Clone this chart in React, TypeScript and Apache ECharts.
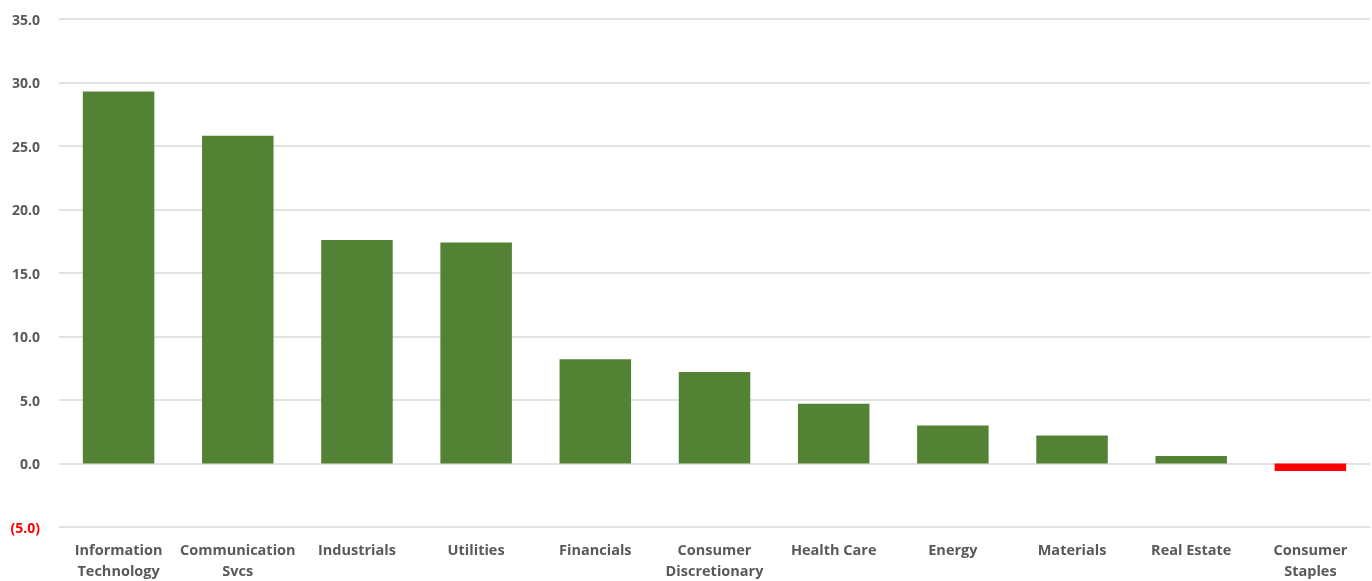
import React, { useEffect, useRef } from "react";
import * as echarts from "echarts";

const categories = [
  "Information\nTechnology",
  "Communication\nSvcs",
  "Industrials",
  "Utilities",
  "Financials",
  "Consumer\nDiscretionary",
  "Health Care",
  "Energy",
  "Materials",
  "Real Estate",
  "Consumer\nStaples",
];
const values = [29.3, 25.8, 17.6, 17.4, 8.2, 7.2, 4.7, 3.0, 2.2, 0.6, -0.6];

const GREEN = "#548235";
const RED = "#ff0000";

export default function App() {
  const ref = useRef<HTMLDivElement>(null);
  useEffect(() => {
    if (!ref.current) return;
    const chart = echarts.init(ref.current, undefined, { renderer: "svg" });
    chart.setOption({
      animation: false,
      grid: { left: 59, right: 2, top: 19, bottom: 50, containLabel: false },
      xAxis: {
        type: "category",
        data: categories,
        axisLine: { show: false, onZero: false },
        axisTick: { show: false },
        axisLabel: {
          interval: 0,
          margin: 12,
          fontSize: 14.5,
          lineHeight: 21,
          fontWeight: "bold",
          color: "#595959",
          fontFamily: "Open Sans",
        },
      },
      yAxis: {
        type: "value",
        min: -5,
        max: 35,
        interval: 5,
        axisLine: { show: false },
        axisTick: { show: false },
        splitLine: { lineStyle: { color: "#d9d9d9", width: 1.5 } },
        axisLabel: {
          margin: 19,
          fontSize: 14,
          fontWeight: "bold",
          color: "#595959",
          fontFamily: "Open Sans",
          formatter: (v: number) =>
            v < 0 ? `{neg|(${Math.abs(v).toFixed(1)})}` : v.toFixed(1),
          rich: {
            neg: {
              color: RED,
              fontSize: 14,
              fontWeight: "bold",
              fontFamily: "Open Sans",
            },
          },
        },
      },
      series: [
        {
          type: "bar",
          barWidth: "60%",
          data: values.map((v) => ({
            value: v,
            itemStyle: { color: v < 0 ? RED : GREEN },
          })),
        },
      ],
    });
    return () => chart.dispose();
  }, []);
  return (
    <div
      ref={ref}
      style={{ position: "fixed", left: 0, top: 0, width: 1372, height: 581 }}
    />
  );
}
